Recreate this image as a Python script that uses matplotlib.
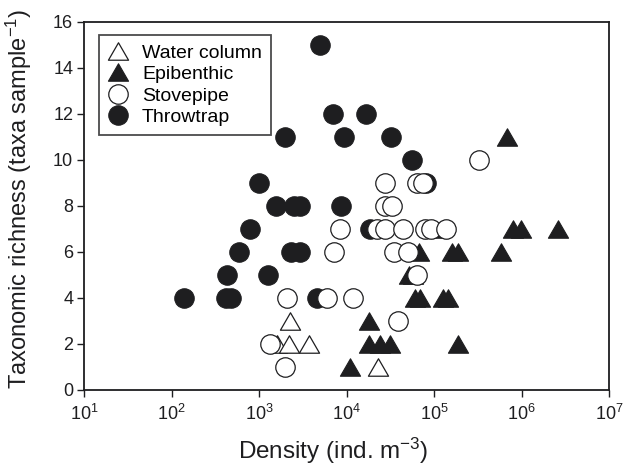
import numpy as np
import matplotlib
matplotlib.use("Agg")
import matplotlib.pyplot as plt
from matplotlib.path import Path

plt.rcParams['font.family'] = ['Liberation Sans', 'DejaVu Sans']
plt.rcParams['mathtext.fontset'] = 'custom'
plt.rcParams['mathtext.rm'] = 'Liberation Sans'
plt.rcParams['mathtext.it'] = 'Liberation Sans'

# density (ind. m-3) and taxa per sample
water_x = [23000, 1600, 2200, 3700, 2250]
water_y = [1, 2, 2, 2, 3]

epi_x = [10800, 18000, 24000, 31500, 187000, 18000, 60000, 69000, 126000, 145000,
         52000, 58000, 68000, 160000, 190000, 575000, 100000, 790000, 980000,
         2600000, 690000]
epi_y = [1, 2, 2, 2, 2, 3, 4, 4, 4, 4,
         5, 5, 6, 6, 6, 6, 7, 7, 7,
         7, 11]

stove_x = [1950, 1320, 39000, 2100, 6000, 11800, 64000, 7200, 34600, 50000,
           8400, 22000, 27500, 44000, 78000, 93000, 138000, 27500, 33000,
           27500, 63000, 75000, 324000]
stove_y = [1, 2, 3, 4, 4, 4, 5, 6, 6, 6,
           7, 7, 7, 7, 7, 7, 7, 8, 8,
           9, 9, 9, 10]

throw_x = [139, 420, 480, 4600, 425, 1260, 590, 2300, 2950, 780, 18600,
           1550, 2500, 2900, 8700, 990, 81000, 56000, 1950, 9300, 32500,
           6900, 16600, 4900]
throw_y = [4, 4, 4, 4, 5, 5, 6, 6, 6, 7, 7,
           8, 8, 8, 8, 9, 9, 10, 11, 11, 11,
           12, 12, 15]

dark = '#1e1e20'
# equilateral triangle marker (closed path)
tri = Path([(0, 0.866), (-1, -0.866), (1, -0.866), (0, 0.866)],
           [Path.MOVETO, Path.LINETO, Path.LINETO, Path.CLOSEPOLY])

fig = plt.figure(figsize=(6.24, 4.67), dpi=100)
ax = fig.add_axes([0.135, 0.165, 0.841, 0.788])

ax.plot(throw_x, throw_y, 'o', ms=14, mfc=dark, mec=dark, mew=0.8,
        ls='none', label='Throwtrap', zorder=3)
ax.plot(epi_x, epi_y, marker=tri, ms=14.5, mfc=dark, mec=dark, mew=0.8,
        ls='none', label='Epibenthic', zorder=4)
ax.plot(water_x, water_y, marker=tri, ms=14.5, mfc='white', mec=dark, mew=0.9,
        ls='none', label='Water column', zorder=5)
ax.plot(stove_x, stove_y, 'o', ms=14, mfc='white', mec=dark, mew=0.9,
        ls='none', label='Stovepipe', zorder=6)

ax.set_xscale('log')
ax.set_xlim(10, 1e7)
ax.set_ylim(0, 16)
ax.set_yticks(range(0, 17, 2))
ax.set_xticks([10**k for k in range(1, 8)])
ax.minorticks_off()
ax.tick_params(direction='out', length=5, width=1, labelsize=13, colors=dark)
ax.tick_params(axis='x', pad=5)
ax.tick_params(axis='y', pad=3)
for s in ax.spines.values():
    s.set_linewidth(1.3)
    s.set_color(dark)

ax.set_xlabel('Density (ind. m$^{-3}$)', fontsize=17.5, color=dark, labelpad=6)
ax.xaxis.set_label_coords(0.474, -0.125)
ax.set_ylabel('Taxonomic richness (taxa sample$^{-1}$)', fontsize=17,
              color=dark, labelpad=6)
ax.yaxis.set_label_coords(-0.095, 0.52)

h, l = ax.get_legend_handles_labels()
order = [2, 1, 3, 0]
leg = ax.legend([h[i] for i in order], [l[i] for i in order], loc='upper left',
                bbox_to_anchor=(0.0284, 0.964), borderaxespad=0, fontsize=14,
                frameon=True, fancybox=False, edgecolor=dark,
                handletextpad=0.75, labelspacing=0.2, borderpad=0.45,
                handlelength=1.0, markerscale=1.0)
leg.get_frame().set_linewidth(1.3)
leg.set_zorder(10)

fig.savefig('out.png', dpi=100)
